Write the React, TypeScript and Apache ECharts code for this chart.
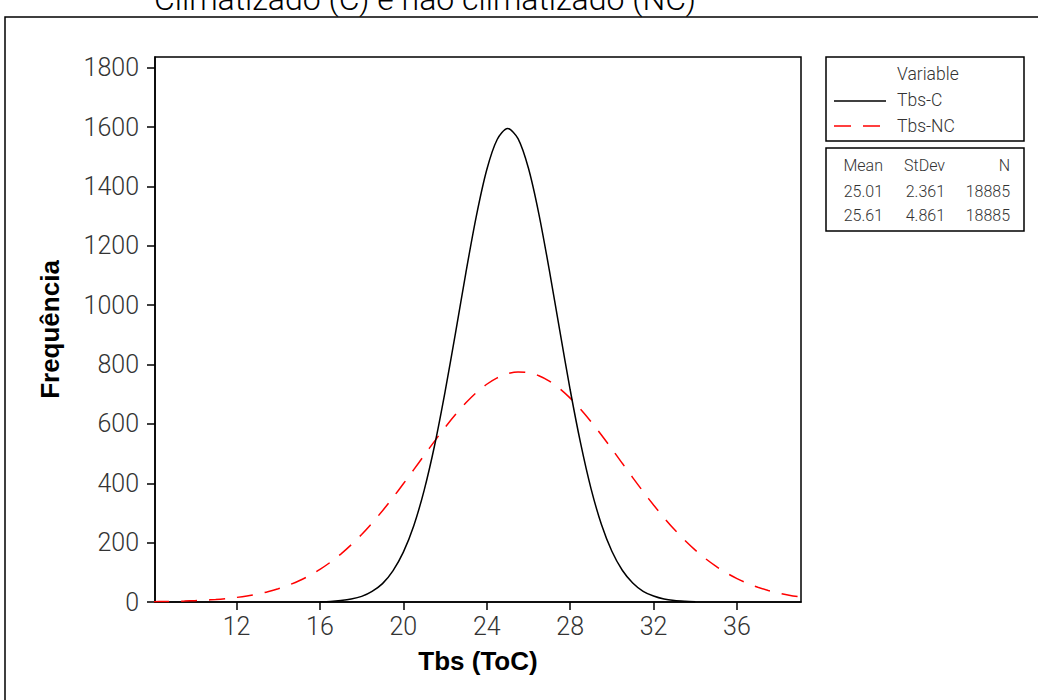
import { useEffect, useRef } from "react";
import * as echarts from "echarts";

const titleText = "Climatizado (C) e não climatizado (NC)";
const xAxisName = "Tbs (ToC)";
const yAxisName = "Frequência";
const xTicks = [12, 16, 20, 24, 28, 32, 36];
const yTicks = [0, 200, 400, 600, 800, 1000, 1200, 1400, 1600, 1800];

const tbsCx = [16, 16.5, 17, 17.5, 18, 18.5, 19, 19.5, 20, 20.5, 21, 21.5, 22, 22.5, 23, 23.5, 24, 24.5, 25, 25.5, 26, 26.5, 27, 27.5, 28, 28.5, 29, 29.5, 30, 30.5, 31, 31.5, 32, 32.5, 33, 33.5, 34];
const tbsCy = [1, 2, 5, 10, 19, 36, 62, 105, 168, 257, 377, 528, 708, 906, 1110, 1300, 1456, 1558, 1595, 1561, 1461, 1307, 1118, 915, 715, 535, 382, 261, 171, 107, 64, 36, 20, 10, 5, 2.5, 1];

const tbsNCx = [8, 8.5, 9, 9.5, 10, 10.5, 11, 11.5, 12, 12.5, 13, 13.5, 14, 14.5, 15, 15.5, 16, 16.5, 17, 17.5, 18, 18.5, 19, 19.5, 20, 20.5, 21, 21.5, 22, 22.5, 23, 23.5, 24, 24.5, 25, 25.5, 26, 26.5, 27, 27.5, 28, 28.5, 29, 29.5, 30, 30.5, 31, 31.5, 32, 32.5, 33, 33.5, 34, 34.5, 35, 35.5, 36, 36.5, 37, 37.5, 38, 38.5, 39, 39.5];
const tbsNCy = [1.1, 1.6, 2.3, 3.2, 4.5, 6.2, 8.5, 11.5, 15.4, 20.4, 26.8, 34.8, 44.7, 56.9, 71.6, 89.1, 109.8, 133.9, 161.4, 192.8, 227.5, 265.9, 307.5, 351.7, 398.2, 446, 494.3, 542.1, 588.2, 631.5, 671, 705.3, 733.6, 755.1, 768.9, 774.8, 772.5, 762.1, 743.9, 718.6, 686.7, 649.5, 607.7, 562.6, 515.5, 467.2, 419.1, 371.9, 326.7, 283.9, 244.1, 207.6, 174.8, 145.5, 120, 97.8, 79, 63, 49.8, 38.9, 30.1, 23, 17.5, 13.1];

const legendTitle = "Variable";
const seriesNames = ["Tbs-C", "Tbs-NC"];
const statHeaders = ["Mean", "StDev", "N"];
const statMeans = ["25.01", "25.61"];
const statStdDevs = ["2.361", "4.861"];
const statCounts = ["18885", "18885"];

const FONT = "Roboto, 'Liberation Sans', sans-serif";
const BOLD_FONT = "'Liberation Sans', Arial, sans-serif";

export default function App() {
  const ref = useRef<HTMLDivElement>(null);

  useEffect(() => {
    if (!ref.current) return;
    const chart = echarts.init(ref.current, null, { renderer: "svg" });

    const txt = (text: string, x: number, y: number, align: string, size: number, weight: any = 300, fill = "#333") => ({
      type: "text",
      silent: true,
      z: 10,
      style: {
        text,
        x,
        y,
        fill,
        fontSize: size,
        fontFamily: FONT,
        fontWeight: weight,
        align,
        verticalAlign: "middle",
        textAlign: align,
        textVerticalAlign: "middle",
      },
    });

    const colRights = [883, 945, 1010];
    const statRows = [statMeans, statStdDevs, statCounts];
    const tableTexts: any[] = [];
    statHeaders.forEach((h, i) => tableTexts.push(txt(h, colRights[i], 165, "right", 16)));
    for (let r = 0; r < 2; r++) {
      statRows.forEach((col, i) => tableTexts.push(txt(col[r], colRights[i], 191 + r * 24, "right", 16)));
    }

    const option: any = {
      animation: false,
      backgroundColor: "#fff",
      textStyle: { fontFamily: FONT },
      grid: {
        left: 155,
        top: 57,
        width: 646,
        height: 545,
        show: true,
        borderColor: "#000",
        borderWidth: 1.5,
        backgroundColor: "transparent",
      },
      xAxis: {
        type: "value",
        min: 8.09,
        max: 39.07,
        name: xAxisName,
        nameLocation: "middle",
        nameGap: 46,
        nameTextStyle: { fontSize: 26, fontWeight: "bold", color: "#000", fontFamily: BOLD_FONT },
        axisLine: { show: true, onZero: false, lineStyle: { color: "#000", width: 1.5 } },
        axisTick: { show: true, inside: false, length: 8, customValues: xTicks, lineStyle: { color: "#000", width: 1.5 } },
        axisLabel: { customValues: xTicks, fontSize: 25, color: "#333", fontWeight: 300, margin: 12, fontFamily: FONT, formatter: (v: number) => String(v) },
        splitLine: { show: false },
      },
      yAxis: {
        type: "value",
        min: 0,
        max: 1836,
        name: yAxisName,
        nameLocation: "middle",
        nameRotate: 90,
        nameGap: 92,
        nameTextStyle: { fontSize: 26, fontWeight: "bold", color: "#000", fontFamily: BOLD_FONT },
        axisLine: { show: true, lineStyle: { color: "#000", width: 1.5 } },
        axisTick: { show: true, inside: false, length: 8, customValues: yTicks, lineStyle: { color: "#000", width: 1.5 } },
        axisLabel: { customValues: yTicks, fontSize: 25, color: "#333", fontWeight: 300, margin: 16, fontFamily: FONT, formatter: (v: number) => String(v) },
        splitLine: { show: false },
      },
      series: [
        {
          name: seriesNames[0],
          type: "line",
          data: tbsCx.map((x, i) => [x, tbsCy[i]]),
          showSymbol: false,
          smooth: 0.3,
          lineStyle: { color: "#000", width: 1.5 },
          z: 3,
        },
        {
          name: seriesNames[1],
          type: "line",
          data: tbsNCx.map((x, i) => [x, tbsNCy[i]]),
          showSymbol: false,
          smooth: 0.3,
          lineStyle: { color: "#ff0000", width: 1.5, type: [16, 12] },
          z: 2,
        },
      ],
      graphic: [
        {
          type: "rect",
          silent: true,
          shape: { x: 5, y: 17, width: 1200, height: 900 },
          style: { fill: "transparent", stroke: "#000", lineWidth: 1.5 },
          z: 0,
        },
        txt(titleText, 425, -1.5, "center", 32, 300, "#000"),
        {
          type: "rect",
          silent: true,
          shape: { x: 826, y: 57, width: 198, height: 84 },
          style: { fill: "#fff", stroke: "#000", lineWidth: 1.5 },
          z: 5,
        },
        txt(legendTitle, 897, 74, "left", 17.5),
        {
          type: "line",
          silent: true,
          z: 10,
          shape: { x1: 834, y1: 101, x2: 886, y2: 101 },
          style: { stroke: "#000", lineWidth: 1.5 },
        },
        txt(seriesNames[0], 897, 100, "left", 17.5),
        {
          type: "line",
          silent: true,
          z: 10,
          shape: { x1: 834, y1: 126, x2: 882, y2: 126 },
          style: { stroke: "#ff0000", lineWidth: 1.5, lineDash: [17, 12] },
        },
        txt(seriesNames[1], 897, 126, "left", 17.5),
        {
          type: "rect",
          silent: true,
          shape: { x: 826, y: 148, width: 198, height: 83 },
          style: { fill: "#fff", stroke: "#000", lineWidth: 1.5 },
          z: 5,
        },
        ...tableTexts,
      ],
    };

    chart.setOption(option);
    return () => chart.dispose();
  }, []);

  return (
    <div
      ref={ref}
      style={{ position: "absolute", left: 0, top: 0, width: 1038, height: 700, background: "#fff" }}
    />
  );
}
